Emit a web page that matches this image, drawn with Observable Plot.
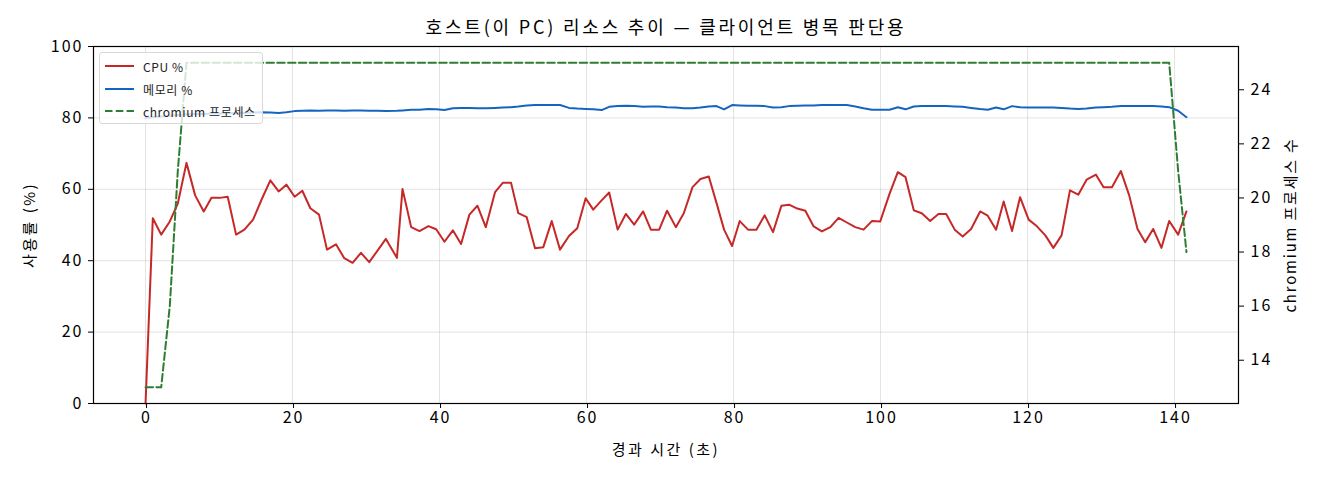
<!DOCTYPE html>
<html><head><meta charset="utf-8">
<script src="https://cdn.jsdelivr.net/npm/d3@7"></script>
<script src="https://cdn.jsdelivr.net/npm/@observablehq/plot@0.6"></script>
<style>
body{margin:0;background:#fff;}
#wrap{position:relative;width:1320px;height:480px;font-family:"Noto Sans CJK KR","Noto Sans",sans-serif;}
#legend{position:absolute;left:99px;top:52px;width:164px;height:72px;box-sizing:border-box;border:1px solid #d8d8d8;border-radius:3px;background:rgba(255,255,255,0.8);font-size:12px;letter-spacing:0.6px;color:#222;}
.row{position:absolute;left:0;height:16px;display:flex;align-items:center;}
.row svg{margin-left:5px;margin-right:9px;}
</style></head>
<body><div id="wrap"></div>
<script>
const title = "호스트(이 PC) 리소스 추이 — 클라이언트 병목 판단용";
const xLabel = "경과 시간 (초)";
const yLabel = "사용률 (%)";
const y2Label = "chromium 프로세스 수";
const seriesNames = ["CPU %", "메모리 %", "chromium 프로세스"];
const seriesColors = ["#c62828", "#1565c0", "#2e7d32"];
const xTicks = [0, 20, 40, 60, 80, 100, 120, 140];
const yTicks = [0, 20, 40, 60, 80, 100];
const procTicks = [14, 16, 18, 20, 22, 24];

const times = [0,0.99,2.13,3.30,4.39,5.57,6.75,7.92,8.97,10.10,11.18,12.32,13.45,14.63,15.76,16.98,18.11,19.16,20.29,21.33,22.42,23.60,24.69,25.91,27.04,28.17,29.31,30.43,31.56,32.70,34.20,34.96,36.14,37.27,38.49,39.54,40.67,41.81,42.93,44.06,45.15,46.29,47.55,48.60,49.73,50.72,51.86,52.99,54.12,55.26,56.39,57.61,58.74,59.88,60.91,62.05,63.08,64.23,65.35,66.48,67.70,68.75,69.88,70.96,72.15,73.23,74.42,75.50,76.63,77.68,78.71,79.80,80.84,81.97,83.11,84.24,85.37,86.51,87.54,88.68,89.77,90.90,92.02,93.17,94.29,95.42,96.56,97.69,98.82,99.96,101.22,102.35,103.40,104.52,105.61,106.75,107.88,108.93,110.09,111.18,112.32,113.55,114.58,115.72,116.75,117.89,118.98,120.15,121.24,122.42,123.51,124.63,125.77,126.90,128.03,129.31,130.34,131.48,132.70,133.83,134.96,136.01,137.09,138.22,139.27,140.49,141.62];

const cpu = [0,51.9,47.3,51.0,56.0,67.4,58.3,53.8,57.6,57.6,
57.9,47.3,48.7,51.5,57.0,62.5,59.4,61.3,57.9,59.6,
54.7,52.9,43.1,44.6,40.7,39.4,42.2,39.6,42.8,46.1,
40.8,60.1,49.4,48.3,49.7,48.8,45.3,48.5,44.7,52.9,
55.4,49.4,59.2,61.8,61.8,53.3,52.2,43.5,43.8,51.1,
43.1,46.9,49.1,57.5,54.3,56.9,59.1,48.7,53.1,50.1,
53.8,48.7,48.7,54.0,49.4,53.3,60.6,62.9,63.6,56.2,
48.7,44.1,51.1,48.7,48.7,52.7,48.0,55.4,55.7,54.6,
54.0,49.6,48.2,49.4,52.0,50.7,49.4,48.7,51.1,51.0,
58.7,64.8,63.4,54.1,53.3,51.1,53.1,53.1,48.7,46.8,
48.9,53.8,52.6,48.7,56.6,48.3,57.8,51.5,49.7,47.1,
43.6,47.1,59.7,58.5,62.7,64.1,60.6,60.6,65.1,58.3,
48.9,45.2,48.9,43.6,51.1,47.3,53.8];

const mem = [80.0,80.2,80.4,80.6,80.8,81.0,81.1,81.1,81.2,81.2,
81.3,81.3,81.4,81.5,81.6,81.5,81.4,81.6,81.9,82.0,
82.1,82.0,82.1,82.1,82.0,82.1,82.1,82.0,82.0,81.9,
82.0,82.1,82.3,82.3,82.5,82.4,82.2,82.7,82.8,82.8,
82.7,82.7,82.8,82.9,83.0,83.2,83.5,83.6,83.6,83.6,
83.6,82.8,82.6,82.5,82.4,82.2,83.1,83.3,83.4,83.3,
83.1,83.2,83.2,83.0,82.9,82.7,82.7,82.9,83.2,83.3,
82.4,83.6,83.5,83.4,83.4,83.3,82.9,83.0,83.3,83.4,
83.5,83.5,83.6,83.6,83.6,83.6,83.2,82.7,82.3,82.3,
82.3,83.0,82.4,83.2,83.3,83.3,83.3,83.3,83.2,83.1,
82.8,82.5,82.3,82.9,82.4,83.3,83.0,82.9,82.9,82.9,
82.9,82.8,82.6,82.5,82.6,82.9,83.0,83.1,83.3,83.3,
83.3,83.3,83.3,83.2,83.0,82.0,80.2];

const proc = [13,13,13,16,21,
25,25,25,25,25,25,25,25,25,25,25,25,25,25,25,25,25,25,25,25,
25,25,25,25,25,25,25,25,25,25,25,25,25,25,25,25,25,25,25,25,
25,25,25,25,25,25,25,25,25,25,25,25,25,25,25,25,25,25,25,25,
25,25,25,25,25,25,25,25,25,25,25,25,25,25,25,25,25,25,25,25,
25,25,25,25,25,25,25,25,25,25,25,25,25,25,25,25,25,25,25,25,
25,25,25,25,25,25,25,25,25,25,25,25,25,25,25,25,25,25,25,25,
21,18];

const procDomain = [12.4, 25.6];

const data = times.map((t, i) => ({t, cpu: cpu[i], mem: mem[i], proc: proc[i]}));
const [LO, HI] = procDomain;
const toPct = c => (c - LO) / (HI - LO) * 100;
const fromPct = p => p * (HI - LO) / 100 + LO;
const FONT = '"Noto Sans CJK KR","Noto Sans",sans-serif';

const chart = Plot.plot({
  width: 1320, height: 480,
  marginLeft: 93, marginRight: 82, marginTop: 46, marginBottom: 77,
  x: {domain: [-7.08, 148.7]},
  y: {domain: [0, 100]},
  style: {fontFamily: FONT, fontSize: "16px", color: "#000", background: "#fff"},
  marks: [
    Plot.gridX(xTicks, {stroke: "#b0b0b0", strokeOpacity: 0.35, strokeWidth: 1}),
    Plot.gridY(yTicks, {stroke: "#b0b0b0", strokeOpacity: 0.35, strokeWidth: 1}),
    Plot.line(data, {x: "t", y: "cpu", stroke: seriesColors[0], strokeWidth: 2}),
    Plot.line(data, {x: "t", y: "mem", stroke: seriesColors[1], strokeWidth: 2}),
    Plot.line(data, {x: "t", y: d => toPct(d.proc), stroke: seriesColors[2], strokeWidth: 2, strokeDasharray: "7.5,3.3"}),
    Plot.frame({stroke: "#000", strokeWidth: 1.2}),
    Plot.axisX(xTicks, {tickSize: 5, tickPadding: 3, label: null, fontSize: 16, dx: 1}),
    Plot.axisY(yTicks, {anchor: "left", tickSize: 5, tickPadding: 5, label: null, fontSize: 16}),
    Plot.axisY(procTicks.map(toPct), {anchor: "right", tickSize: 5, tickPadding: 7, label: null, fontSize: 16,
      tickFormat: v => String(Math.round(fromPct(v)))}),
    Plot.text([title], {text: d => d, frameAnchor: "top", lineAnchor: "middle", textAnchor: "middle", dy: -18, fontSize: 18}),
    Plot.text([xLabel], {text: d => d, frameAnchor: "bottom", lineAnchor: "middle", textAnchor: "middle", dy: 47, fontSize: 15}),
    Plot.text([yLabel], {text: d => d, frameAnchor: "left", lineAnchor: "middle", textAnchor: "middle", dx: -63, rotate: -90, fontSize: 15}),
    Plot.text([y2Label], {text: d => d, frameAnchor: "right", lineAnchor: "middle", textAnchor: "middle", dx: 53, rotate: -90, fontSize: 15})
  ]
});

// widen text spacing to match the reference's wide font
d3.select(chart).selectAll("text").each(function() {
  const s = this.textContent;
  let ls = null;
  if (s === title) ls = "2.8px";
  else if (s === xLabel || s === yLabel) ls = "2.5px";
  else if (s === y2Label) ls = "1.8px";
  else if (/^\d+$/.test(s)) ls = "2px";
  if (ls) this.style.letterSpacing = ls;
});

const wrap = document.getElementById("wrap");
wrap.appendChild(chart);

const legend = document.createElement("div");
legend.id = "legend";
const rowTops = [5, 28, 50];
seriesNames.forEach((name, i) => {
  const row = document.createElement("div");
  row.className = "row";
  row.style.top = rowTops[i] + "px";
  const dash = i === 2 ? 'stroke-dasharray="7.5,3.3"' : "";
  row.innerHTML = `<svg width="29" height="6"><line x1="0" y1="3" x2="29" y2="3" stroke="${seriesColors[i]}" stroke-width="2" ${dash}/></svg><span>${name}</span>`;
  legend.appendChild(row);
});
wrap.appendChild(legend);
</script>
</body></html>
